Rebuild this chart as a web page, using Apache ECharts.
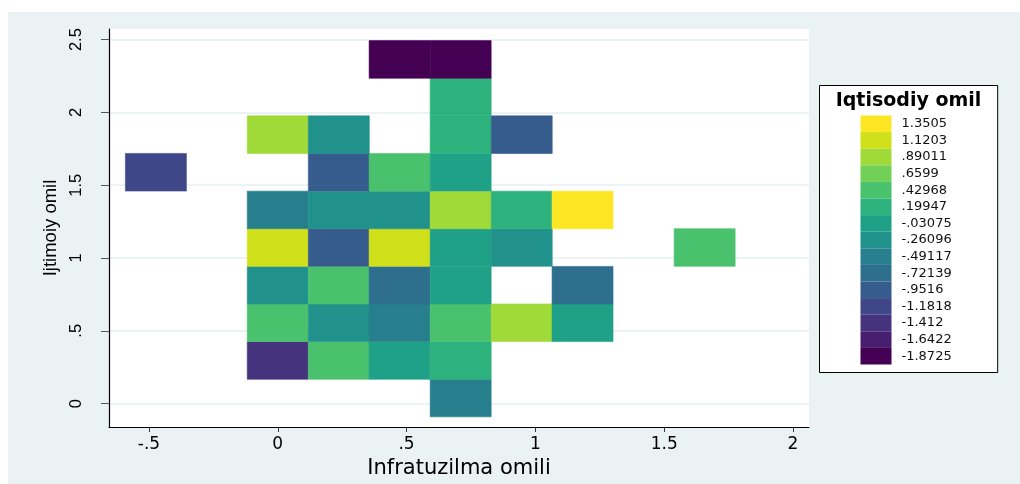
<!DOCTYPE html>
<html>
<head>
<meta charset="utf-8">
<script src="https://cdn.jsdelivr.net/npm/echarts@6/dist/echarts.min.js"></script>
<style>
  html, body { margin: 0; padding: 0; background: #fff; }
  #chart { position: absolute; left: 8px; top: 12px; width: 1012px; height: 472px; }
</style>
</head>
<body>
<div id="chart"></div>
<script>
// axis ticks
const xTicks = [-0.5, 0, 0.5, 1, 1.5, 2];
const yTicks = [0, 0.5, 1, 1.5, 2, 2.5];

// bin centres (Infratuzilma omili / Ijtimoiy omil)
const xCenters = [-0.473, -0.237, 0, 0.237, 0.473, 0.710, 0.947, 1.183, 1.420, 1.657];
const yCenters = [0.038, 0.296, 0.555, 0.813, 1.072, 1.330, 1.589, 1.847, 2.106, 2.364];
const binWidth = 0.2367;
const binHeight = 0.2585;

// Iqtisodiy omil, one row per y bin (bottom to top), null = empty
const cellValues = [
  [null, null, null, null, null, -0.49117, null, null, null, null],
  [null, null, -1.412, 0.42968, -0.03075, 0.19947, null, null, null, null],
  [null, null, 0.42968, -0.26096, -0.49117, 0.42968, 0.89011, -0.03075, null, null],
  [null, null, -0.26096, 0.42968, -0.72139, -0.03075, null, -0.72139, null, null],
  [null, null, 1.1203, -0.9516, 1.1203, -0.03075, -0.26096, null, null, 0.42968],
  [null, null, -0.49117, -0.26096, -0.26096, 0.89011, 0.19947, 1.3505, null, null],
  [-1.1818, null, null, -0.9516, 0.42968, -0.03075, null, null, null, null],
  [null, null, 0.89011, -0.26096, null, 0.19947, -0.9516, null, null, null],
  [null, null, null, null, null, 0.19947, null, null, null, null],
  [null, null, null, null, -1.8725, -1.8725, null, null, null, null]
];

// legend levels (low to high)
const levels = [-1.8725, -1.6422, -1.412, -1.1818, -0.9516, -0.72139, -0.49117, -0.26096,
  -0.03075, 0.19947, 0.42968, 0.6599, 0.89011, 1.1203, 1.3505];
const levelLabels = ['-1.8725', '-1.6422', '-1.412', '-1.1818', '-.9516', '-.72139', '-.49117', '-.26096',
  '-.03075', '.19947', '.42968', '.6599', '.89011', '1.1203', '1.3505'];
const levelColors = ['#440154', '#481f70', '#46337e', '#3f4788', '#365c8d', '#2e6f8e', '#277f8e', '#21918c',
  '#1fa187', '#2db27d', '#4ac16d', '#73d056', '#a0da39', '#d0e11c', '#fde725'];

const cells = [];
cellValues.forEach((row, j) => {
  row.forEach((v, k) => {
    if (v !== null) cells.push([xCenters[k], yCenters[j], v]);
  });
});

const half = 0.1151;
const pieces = levels.map((v, i) => ({
  gte: v - half,
  lt: v + half,
  label: levelLabels[i],
  color: levelColors[i]
}));

function stataNum(v) {
  if (v === 0) return '0';
  const s = String(Math.abs(v)).replace(/^0\./, '.');
  return (v < 0 ? '-' : '') + s;
}

const chart = echarts.init(document.getElementById('chart'));
const option = {
  backgroundColor: '#eaf2f3',
  animation: false,
  grid: {
    left: 101,
    right: 211,
    top: 17,
    bottom: 57,
    show: true,
    backgroundColor: '#fff',
    borderWidth: 0
  },
  xAxis: {
    type: 'value',
    min: -0.655,
    max: 2.062,
    name: 'Infratuzilma omili',
    nameLocation: 'middle',
    nameGap: 23,
    nameTextStyle: { fontFamily: 'DejaVu Sans', fontSize: 21, color: '#000' },
    axisLine: { show: true, onZero: false, lineStyle: { color: '#000', width: 1.2 } },
    axisTick: { show: true, length: 5, customValues: xTicks, lineStyle: { color: '#333' } },
    axisLabel: {
      customValues: xTicks,
      formatter: stataNum,
      margin: 9,
      fontFamily: 'DejaVu Sans',
      fontSize: 17,
      color: '#000'
    },
    splitLine: { show: false }
  },
  yAxis: {
    type: 'value',
    min: -0.161,
    max: 2.573,
    name: 'Ijtimoiy omil',
    nameLocation: 'middle',
    nameGap: 47,
    nameTextStyle: { fontFamily: 'Liberation Sans', fontSize: 18.5, color: '#000' },
    axisLine: { show: true, onZero: false, lineStyle: { color: '#000', width: 1.2 } },
    axisTick: { show: true, length: 8, customValues: yTicks, lineStyle: { color: '#555' } },
    axisLabel: {
      customValues: yTicks,
      formatter: stataNum,
      rotate: 90,
      margin: 24,
      fontFamily: 'Liberation Sans',
      fontSize: 16.5,
      color: '#000'
    },
    splitLine: { show: true, lineStyle: { color: '#e6eff1', width: 1.5 } }
  },
  visualMap: {
    type: 'piecewise',
    dimension: 2,
    seriesIndex: 0,
    orient: 'vertical',
    align: 'left',
    left: 811,
    top: 73,
    pieces: pieces,
    itemWidth: 31,
    itemHeight: 16.6,
    itemGap: 0,
    itemSymbol: 'rect',
    textGap: 10,
    selectedMode: false,
    padding: [30, 46, 8, 41],
    backgroundColor: '#fff',
    borderColor: '#000',
    borderWidth: 1,
    textStyle: { fontFamily: 'DejaVu Sans', fontSize: 13, color: '#111' }
  },
  graphic: [{
    type: 'text',
    x: 900.5,
    y: 89.5,
    z: 100,
    style: {
      text: 'Iqtisodiy omil',
      font: 'bold 19px "DejaVu Sans"',
      fill: '#000',
      textAlign: 'center',
      textVerticalAlign: 'middle'
    }
  }],
  series: [{
    type: 'custom',
    data: cells,
    encode: { x: 0, y: 1 },
    renderItem: function (params, api) {
      const c = api.coord([api.value(0), api.value(1)]);
      const s = api.size([binWidth, binHeight]);
      const color = api.visual('color');
      return {
        type: 'rect',
        shape: { x: c[0] - s[0] / 2, y: c[1] - s[1] / 2, width: s[0], height: s[1] },
        style: { fill: color, stroke: color, lineWidth: 0.6 }
      };
    }
  }]
};
chart.setOption(option);
</script>
</body>
</html>
